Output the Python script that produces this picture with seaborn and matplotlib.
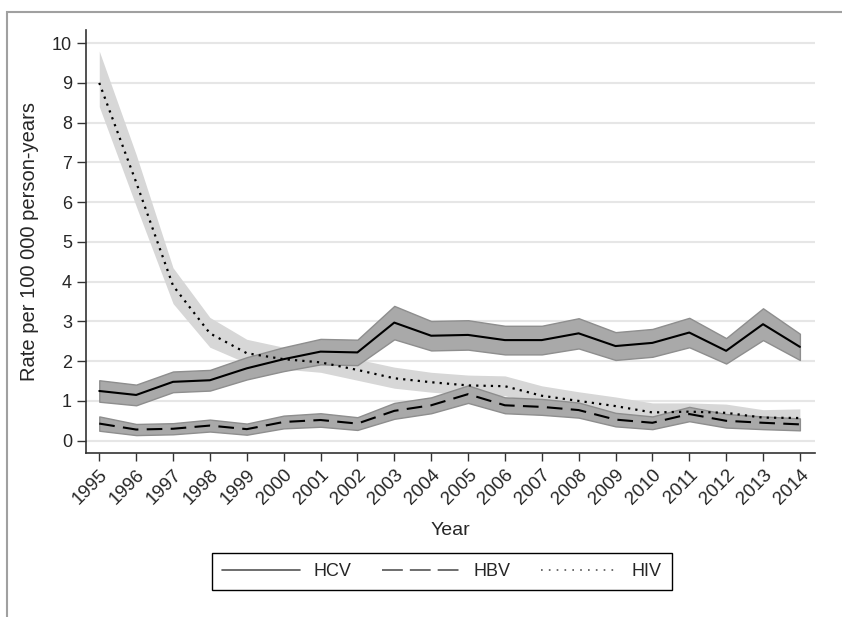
import matplotlib
matplotlib.use("Agg")
import matplotlib.pyplot as plt
from matplotlib.patches import Rectangle
import seaborn as sns
import numpy as np

years = list(range(1995, 2015))

hcv = [1.25, 1.15, 1.48, 1.52, 1.82, 2.05, 2.24, 2.22, 2.97, 2.64, 2.66, 2.53, 2.53, 2.70, 2.38, 2.46, 2.72, 2.26, 2.93, 2.36]
hcv_lo = [0.98, 0.89, 1.22, 1.26, 1.54, 1.75, 1.92, 1.90, 2.55, 2.27, 2.29, 2.17, 2.17, 2.32, 2.03, 2.11, 2.35, 1.94, 2.53, 2.03]
hcv_hi = [1.52, 1.41, 1.74, 1.78, 2.10, 2.35, 2.56, 2.54, 3.39, 3.01, 3.03, 2.89, 2.89, 3.08, 2.73, 2.81, 3.09, 2.58, 3.33, 2.69]

hbv = [0.43, 0.28, 0.30, 0.38, 0.29, 0.47, 0.52, 0.43, 0.75, 0.89, 1.17, 0.89, 0.85, 0.77, 0.53, 0.45, 0.67, 0.50, 0.45, 0.41]
hbv_lo = [0.25, 0.14, 0.16, 0.23, 0.15, 0.31, 0.35, 0.27, 0.55, 0.69, 0.95, 0.69, 0.65, 0.58, 0.36, 0.29, 0.49, 0.33, 0.29, 0.26]
hbv_hi = [0.61, 0.42, 0.44, 0.53, 0.43, 0.63, 0.69, 0.59, 0.95, 1.09, 1.39, 1.09, 1.05, 0.96, 0.70, 0.61, 0.85, 0.67, 0.61, 0.56]

hiv = [9.0, 6.5, 3.9, 2.7, 2.2, 2.05, 1.97, 1.78, 1.57, 1.47, 1.39, 1.37, 1.13, 1.0, 0.87, 0.71, 0.73, 0.70, 0.58, 0.57]
hiv_lo = [8.4, 5.9, 3.45, 2.35, 1.95, 1.8, 1.72, 1.52, 1.32, 1.22, 1.15, 1.13, 0.9, 0.78, 0.66, 0.5, 0.52, 0.5, 0.4, 0.38]
hiv_hi = [9.8, 7.2, 4.35, 3.1, 2.55, 2.35, 2.25, 2.05, 1.85, 1.72, 1.65, 1.63, 1.38, 1.23, 1.1, 0.95, 0.95, 0.92, 0.78, 0.8]

labels = ["HCV", "HBV", "HIV"]
y_ticks = list(range(0, 11))

sns.set_theme(style="white")
plt.rcParams['font.family'] = ['Liberation Sans', 'DejaVu Sans']

fig = plt.figure(figsize=(8.42, 6.17), dpi=100)
ax = fig.add_axes([86/842, 1-453/617, (815-86)/842, (453-30)/617])

# confidence bands
ax.fill_between(years, hiv_lo, hiv_hi, color='#d7d7d7', lw=0, zorder=1)
ax.fill_between(years, hcv_lo, hcv_hi, facecolor='#a9a9a9', edgecolor='#8e8e8e', lw=1, zorder=2)
ax.fill_between(years, hbv_lo, hbv_hi, facecolor='#a9a9a9', edgecolor='#8e8e8e', lw=1, zorder=2)

sns.lineplot(x=years, y=hcv, ax=ax, color='black', lw=1.5, linestyle='-', label=labels[0], zorder=5)
sns.lineplot(x=years, y=hbv, ax=ax, color='black', lw=1.5, linestyle=(0, (7.5, 4)), label=labels[1], zorder=5)
sns.lineplot(x=years, y=hiv, ax=ax, color='black', lw=1.6, linestyle=(0, (1, 2.3)), label=labels[2], zorder=5)

ax.set_xlim(1995 - 0.36, 2014 + 0.41)
ax.set_ylim(-0.31, 10.33)
ax.set_yticks(y_ticks)
ax.set_xticks(years)
ax.set_xticklabels([str(y) for y in years], rotation=45, ha='right', rotation_mode='anchor', fontsize=13.5)
ax.tick_params(axis='y', labelsize=13, length=6.5, width=1, color='#333333', left=True, pad=3.5)
ax.tick_params(axis='x', length=5.5, width=1, color='#333333', bottom=True, pad=4)
ax.grid(axis='y', color='#e6e6e6', lw=1.5, zorder=0)
ax.set_axisbelow(True)

for s in ['top', 'right']:
    ax.spines[s].set_visible(False)
for s in ['left', 'bottom']:
    ax.spines[s].set_color('#333333')
    ax.spines[s].set_linewidth(1.2)

ax.set_ylabel("Rate per 100 000 person-years", fontsize=14.5, labelpad=9)
ax.set_xlabel("Year", fontsize=14, labelpad=10)

ax.get_legend().remove()
h, l = ax.get_legend_handles_labels()
leg = fig.legend(h, l, loc='center', bbox_to_anchor=(442/842, 1-571.5/617), bbox_transform=fig.transFigure,
                 ncol=3, frameon=True, fancybox=False, edgecolor='black', framealpha=1,
                 handlelength=4.3, handletextpad=0.75, columnspacing=1.7, fontsize=13,
                 borderpad=0.55)
leg.get_frame().set_linewidth(1.0)
leg_lines = leg.get_lines()
for line in leg_lines:
    line.set_color('#555555')
    line.set_linewidth(1.2)
leg_lines[1].set_dashes((12.5, 4.2))
leg_lines[2].set_dashes((1.0, 3.7))

fig.add_artist(Rectangle((7/842, -0.1), 2, (1 - 12/617) + 0.1, transform=fig.transFigure,
                         fill=False, edgecolor='#a0a0a0', lw=1.5))

fig.savefig("out.png", dpi=100)
